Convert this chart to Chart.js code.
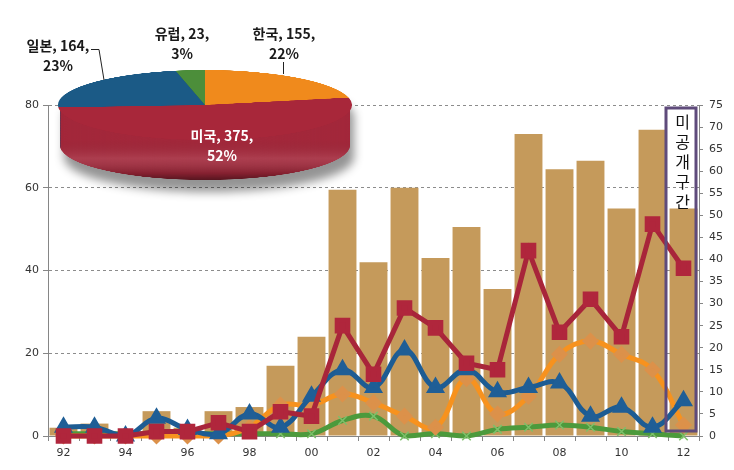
<!DOCTYPE html>
<html>
<head>
<meta charset="utf-8">
<script src="https://cdn.jsdelivr.net/npm/chart.js@4.4.0/dist/chart.umd.min.js"></script>
<style>
  body { margin: 0; background: #fff; }
  #wrap { position: relative; width: 734px; height: 470px; overflow: hidden; }
  #main { position: absolute; left: 0; top: 0; }
  .pie { position: absolute; left: 58px; top: 70px; transform-origin: 0 0; transform: scaleY(0.238); }
  #shade { position: absolute; left: 0; top: 0; width: 734px; height: 470px; filter: drop-shadow(4px 12px 5px rgba(0,0,0,0.42)); }
  .lbl { position: absolute; transform: translateX(-50%); font: bold 14px 'Noto Sans CJK KR', sans-serif; color: #1a1a1a; text-align: center; line-height: 20px; white-space: nowrap; }
  #leaders { position: absolute; left: 0; top: 0; }
</style>
</head>
<body>
<div id="wrap">
  <canvas id="main" width="734" height="470"></canvas>
  <div id="shade"><canvas id="pieSide" class="pie" width="294" height="462"></canvas></div>
  <canvas id="pieTop" class="pie" width="294" height="294"></canvas>
  <svg id="leaders" width="734" height="470">
    <line x1="283.5" y1="62" x2="283.5" y2="74" stroke="#222" stroke-width="1"/>
    <polyline points="91,49.5 99,49.5 104,80" fill="none" stroke="#222" stroke-width="1"/>
  </svg>
</div>
<script>
// 연도 (x축)
const years = ['92','93','94','95','96','97','98','99','00','01','02','03','04','05','06','07','08','09','10','11','12'];
// 전체 건수 (막대, 왼쪽 축)
const totalCounts = [2, 3, 1, 6, 2, 6, 7, 17, 24, 59.5, 42, 60, 43, 50.5, 35.5, 73, 64.5, 66.5, 55, 74, 55];
// 국가별 건수 (선, 오른쪽 축)
const usCounts = [0, 0, 0, 1, 1, 3, 1, 5.5, 4.5, 25, 14, 29, 24.5, 16.5, 15, 42, 23.5, 31, 22.5, 48, 38];
const jpCounts = [2, 2, 0, 4, 1.5, 0.5, 5, 2, 9, 15, 11, 19.5, 11, 15, 10, 11, 12, 4.5, 6.5, 2, 8];
const krCounts = [0, 0, 0, 0, 0, 0, 2, 7, 7, 9.5, 7.5, 4.5, 2, 13, 5, 9, 18.5, 21.5, 18.5, 15, 2.5];
const euCounts = [0.5, 0.5, 0.5, 0.5, 0.5, 0.5, 0.5, 0.5, 0.5, 3.5, 4.5, 0, 0.5, 0, 1.5, 2, 2.5, 2, 1, 0.5, 0];
// 국가별 누적 (파이)
const pieLabels = ['한국', '미국', '일본', '유럽'];
const pieValues = [155, 375, 164, 23];
const boxText = '미공개구간';

Chart.defaults.font.family = "'DejaVu Sans', sans-serif";
Chart.defaults.font.size = 11;
Chart.defaults.color = '#333';

const AXIS = '#868686';

const hiddenRange = {
  id: 'hiddenRange',
  afterDatasetsDraw(chart) {
    const { ctx, chartArea, scales: { x, y } } = chart;
    const i = years.length - 1;
    const half = (x.getPixelForValue(1) - x.getPixelForValue(0)) / 2;
    const cx = x.getPixelForValue(i);
    const l = cx - half - 2, r = cx + half - 3;
    const t = chartArea.top + 3, b = y.getPixelForValue(0) - 5;
    ctx.save();
    ctx.strokeStyle = '#5f4b7b';
    ctx.lineWidth = 3;
    ctx.strokeRect(l, t, r - l, b - t);
    ctx.fillStyle = '#111';
    ctx.font = "16px 'Noto Sans CJK KR'";
    ctx.textAlign = 'center';
    ctx.textBaseline = 'middle';
    [...boxText].forEach((ch, k) => ctx.fillText(ch, cx - 1, t + 14 + k * 20));
    ctx.restore();
  }
};

new Chart(document.getElementById('main'), {
  type: 'bar',
  data: {
    labels: years,
    datasets: [
      {
        type: 'line', label: '미국', data: usCounts, yAxisID: 'y2', order: 1,
        borderColor: '#a8253a', borderWidth: 5, tension: 0, clip: false,
        pointStyle: 'rect', pointRadius: 7.5, pointBackgroundColor: '#b0263c', pointBorderColor: '#b0263c'
      },
      {
        type: 'line', label: '일본', data: jpCounts, yAxisID: 'y2', order: 2,
        borderColor: '#1d5c93', borderWidth: 5, tension: 0.4, clip: false,
        pointStyle: 'triangle', pointRadius: 6, pointBackgroundColor: '#1f5e96', pointBorderColor: '#1f5e96'
      },
      {
        type: 'line', label: '한국', data: krCounts, yAxisID: 'y2', order: 3,
        borderColor: '#f7921e', borderWidth: 5, tension: 0.4, clip: false,
        pointStyle: 'rectRot', pointRadius: 5, pointBackgroundColor: '#dc914a', pointBorderColor: '#dc914a'
      },
      {
        type: 'line', label: '유럽', data: euCounts, yAxisID: 'y2', order: 4,
        borderColor: '#4c9a3c', borderWidth: 5, tension: 0.4, clip: false,
        pointStyle: 'crossRot', pointRadius: 6, pointBorderWidth: 1.5, pointBorderColor: '#7dc06a'
      },
      {
        type: 'bar', label: '전체', data: totalCounts, yAxisID: 'y', order: 10,
        backgroundColor: '#c59a5b', borderWidth: 0, barPercentage: 0.9, categoryPercentage: 1
      }
    ]
  },
  options: {
    responsive: false,
    animation: false,
    events: [],
    layout: { padding: { top: 105, left: 0, right: 0, bottom: 0 } },
    plugins: { legend: { display: false }, tooltip: { enabled: false } },
    scales: {
      x: {
        grid: { offset: true, drawOnChartArea: false, tickLength: 5, color: AXIS },
        border: { color: AXIS },
        ticks: { autoSkip: false, maxRotation: 0, padding: 6, callback: (v, i) => (i % 2 === 0 ? years[i] : '') },
        afterFit: s => { s.height = 34; }
      },
      y: {
        position: 'left', min: 0, max: 80,
        ticks: { stepSize: 20, padding: 4 },
        grid: { color: '#8c8c8c', tickLength: 5, tickColor: AXIS },
        border: { color: AXIS, dash: [3, 3] },
        afterFit: s => { s.width = 48; }
      },
      y2: {
        position: 'right', min: 0, max: 75,
        ticks: { stepSize: 5, padding: 6 },
        grid: { drawOnChartArea: false, tickLength: 4, color: AXIS },
        border: { color: AXIS },
        afterFit: s => { s.width = 35; }
      }
    }
  },
  plugins: [hiddenRange]
});

// 파이 (3D 느낌: 옆면 + 윗면)
const DEPTH = 172;
const extrude = {
  id: 'extrude',
  beforeDatasetsDraw(chart) {
    const ctx = chart.ctx;
    const arcs = chart.getDatasetMeta(0).data;
    for (let dy = DEPTH; dy > 0; dy -= 3) {
      ctx.save();
      ctx.translate(0, dy);
      arcs.forEach(a => a.draw(ctx));
      ctx.restore();
    }
  },
  afterDatasetsDraw(chart) {
    const ctx = chart.ctx;
    const g = ctx.createLinearGradient(0, 147, 0, 147 + 147 + DEPTH);
    g.addColorStop(0, 'rgba(0,0,0,0)');
    g.addColorStop(0.45, 'rgba(0,0,0,0)');
    g.addColorStop(0.7, 'rgba(255,255,255,0.10)');
    g.addColorStop(0.9, 'rgba(0,0,0,0.18)');
    g.addColorStop(1, 'rgba(0,0,0,0.5)');
    ctx.save();
    ctx.globalCompositeOperation = 'source-atop';
    ctx.fillStyle = g;
    ctx.fillRect(0, 0, chart.width, chart.height);
    ctx.restore();
  }
};

const pieOpts = (pad) => ({
  responsive: false, animation: false, events: [],
  layout: { padding: { bottom: pad } },
  plugins: { legend: { display: false }, tooltip: { enabled: false } }
});

new Chart(document.getElementById('pieSide'), {
  type: 'pie',
  data: { labels: pieLabels, datasets: [{ data: pieValues, backgroundColor: ['#c76f12', '#a3283b', '#154a70', '#3d7530'], borderWidth: 0, clip: false }] },
  options: pieOpts(DEPTH),
  plugins: [extrude]
});

new Chart(document.getElementById('pieTop'), {
  type: 'pie',
  data: { labels: pieLabels, datasets: [{ data: pieValues, backgroundColor: ['#f08a1c', '#a8273a', '#1b5a86', '#4c8e3a'], borderWidth: 0 }] },
  options: pieOpts(0)
});

// 파이 라벨
const total = pieValues.reduce((a, b) => a + b, 0);
const labelPos = [
  { x: 284, y: 23, color: '#1a1a1a' },
  { x: 222, y: 125, color: '#ffffff' },
  { x: 58, y: 35, color: '#1a1a1a' },
  { x: 182, y: 23, color: '#1a1a1a' }
];
pieLabels.forEach((name, i) => {
  const d = document.createElement('div');
  d.className = 'lbl';
  d.style.left = labelPos[i].x + 'px';
  d.style.top = labelPos[i].y + 'px';
  d.style.color = labelPos[i].color;
  d.innerHTML = name + ', ' + pieValues[i] + ',<br>' + Math.round(pieValues[i] / total * 100) + '%';
  document.getElementById('wrap').appendChild(d);
});
</script>
</body>
</html>
